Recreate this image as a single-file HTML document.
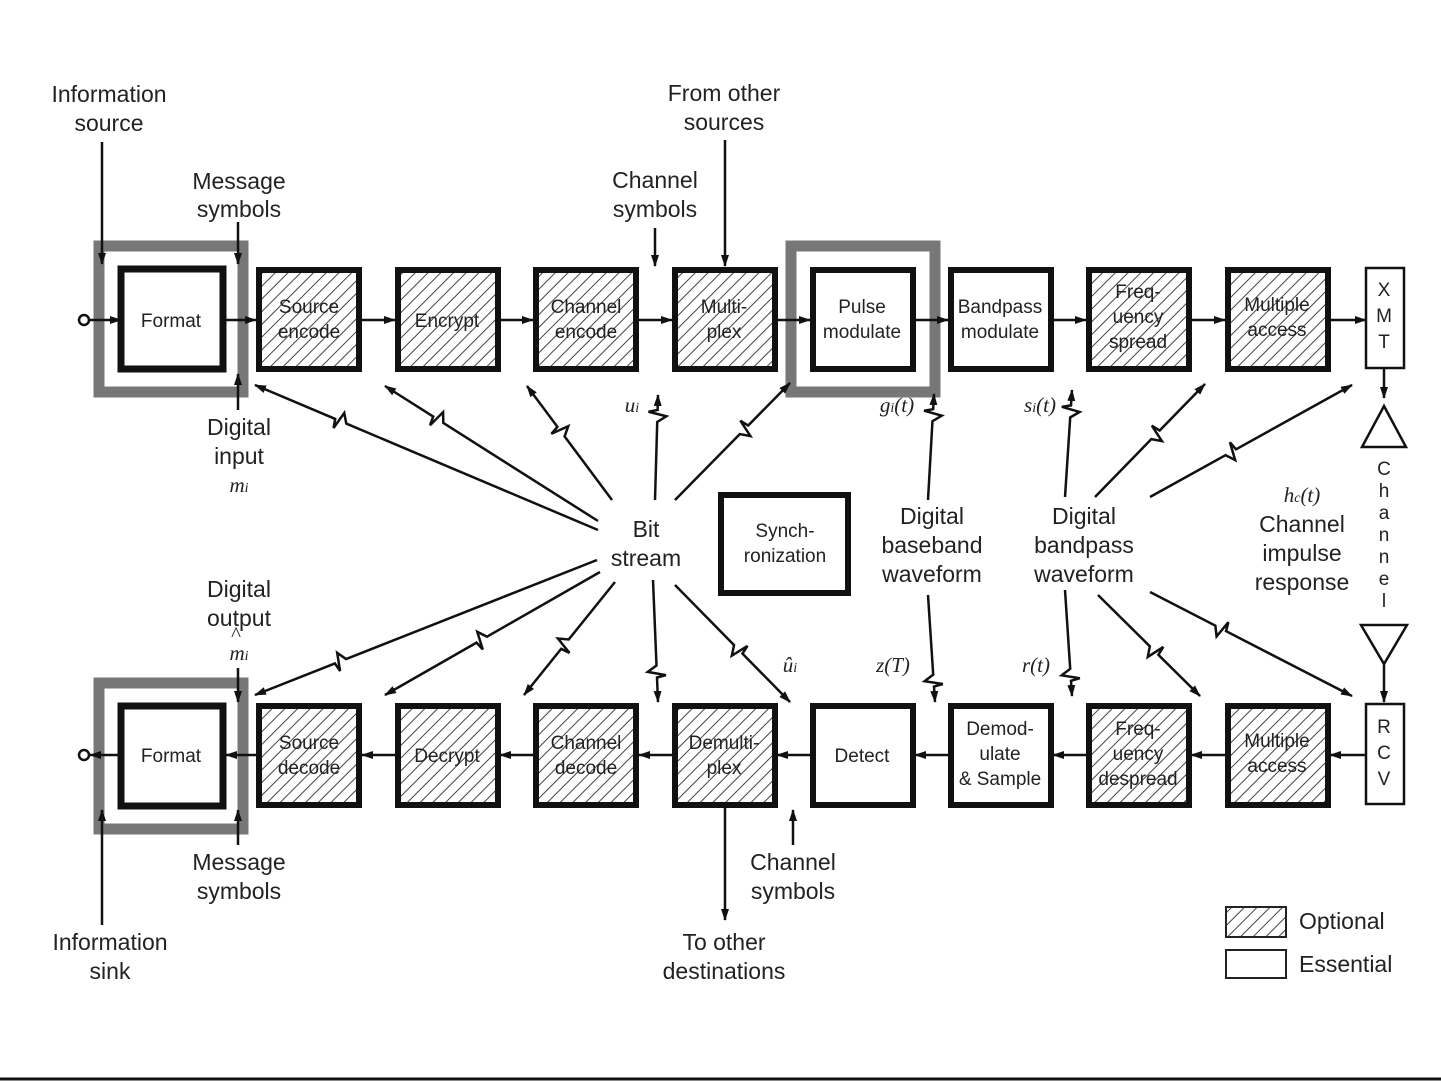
<!DOCTYPE html>
<html><head><meta charset="utf-8"><style>
html,body{margin:0;padding:0;background:#fff}
svg{display:block}
text{font-family:"Liberation Sans",sans-serif;fill:#222}
.b{font-size:19px;text-anchor:middle}
.l{font-size:23px;text-anchor:middle}
.m{font-family:"Liberation Serif",serif;font-style:italic;font-size:21px;text-anchor:middle}
</style></head><body>
<svg id="s" width="1441" height="1081" viewBox="0 0 1441 1081" xmlns="http://www.w3.org/2000/svg">
<defs>
<pattern id="h" width="9" height="9" patternUnits="userSpaceOnUse" patternTransform="rotate(45)">
<rect width="9" height="9" fill="#fff"/><line x1="0" y1="0" x2="0" y2="9" stroke="#444" stroke-width="2"/>
</pattern>
<marker id="a" markerWidth="12" markerHeight="10" refX="11" refY="5" orient="auto" markerUnits="userSpaceOnUse">
<path d="M0,1 L12,5 L0,9 Z" fill="#111"/></marker>
</defs>
<!-- gray frames -->
<rect x="99" y="246" width="144" height="146" fill="none" stroke="#777" stroke-width="11"/>
<rect x="791" y="246" width="144" height="146" fill="none" stroke="#777" stroke-width="11"/>
<rect x="99" y="683" width="144" height="146" fill="none" stroke="#777" stroke-width="11"/>
<g id="boxes"></g>
<g id="g" stroke="#111" fill="none"></g>
<!-- labels top row -->
<text class="b" x="171" y="327">Format</text>
<text class="b" x="309" y="313">Source</text><text class="b" x="309" y="338">encode</text>
<text class="b" x="447" y="327">Encrypt</text>
<text class="b" x="586" y="313">Channel</text><text class="b" x="586" y="338">encode</text>
<text class="b" x="724" y="313">Multi-</text><text class="b" x="724" y="338">plex</text>
<text class="b" x="862" y="313">Pulse</text><text class="b" x="862" y="338">modulate</text>
<text class="b" x="1000" y="313">Bandpass</text><text class="b" x="1000" y="338">modulate</text>
<text class="b" x="1138" y="298">Freq-</text><text class="b" x="1138" y="323">uency</text><text class="b" x="1138" y="348">spread</text>
<text class="b" x="1277" y="311">Multiple</text><text class="b" x="1277" y="336">access</text>
<text class="b" x="1384" y="296">X</text><text class="b" x="1384" y="322">M</text><text class="b" x="1384" y="348">T</text>
<!-- bottom row -->
<text class="b" x="171" y="762">Format</text>
<text class="b" x="309" y="749">Source</text><text class="b" x="309" y="774">decode</text>
<text class="b" x="447" y="762">Decrypt</text>
<text class="b" x="586" y="749">Channel</text><text class="b" x="586" y="774">decode</text>
<text class="b" x="724" y="749">Demulti-</text><text class="b" x="724" y="774">plex</text>
<text class="b" x="862" y="762">Detect</text>
<text class="b" x="1000" y="735">Demod-</text><text class="b" x="1000" y="760">ulate</text><text class="b" x="1000" y="785">&amp; Sample</text>
<text class="b" x="1138" y="735">Freq-</text><text class="b" x="1138" y="760">uency</text><text class="b" x="1138" y="785">despread</text>
<text class="b" x="1277" y="747">Multiple</text><text class="b" x="1277" y="772">access</text>
<text class="b" x="1384" y="733">R</text><text class="b" x="1384" y="759">C</text><text class="b" x="1384" y="785">V</text>
<text class="b" x="785" y="537">Synch-</text><text class="b" x="785" y="562">ronization</text>
<!-- outside labels -->
<text class="l" x="109" y="102">Information</text><text class="l" x="109" y="131">source</text>
<text class="l" x="239" y="189">Message</text><text class="l" x="239" y="217">symbols</text>
<text class="l" x="724" y="101">From other</text><text class="l" x="724" y="130">sources</text>
<text class="l" x="655" y="188">Channel</text><text class="l" x="655" y="217">symbols</text>
<text class="l" x="239" y="435">Digital</text><text class="l" x="239" y="464">input</text>
<text class="m" x="239" y="492">m<tspan font-size="14">i</tspan></text>
<text class="m" x="632" y="412">u<tspan font-size="14">i</tspan></text>
<text class="m" x="897" y="412">g<tspan font-size="14">i</tspan>(t)</text>
<text class="m" x="1040" y="412">s<tspan font-size="14">i</tspan>(t)</text>
<text class="l" x="646" y="537">Bit</text><text class="l" x="646" y="566">stream</text>
<text class="l" x="932" y="524">Digital</text><text class="l" x="932" y="553">baseband</text><text class="l" x="932" y="582">waveform</text>
<text class="l" x="1084" y="524">Digital</text><text class="l" x="1084" y="553">bandpass</text><text class="l" x="1084" y="582">waveform</text>
<text class="m" x="1302" y="502">h<tspan font-size="14">c</tspan>(t)</text>
<text class="l" x="1302" y="532">Channel</text><text class="l" x="1302" y="561">impulse</text><text class="l" x="1302" y="590">response</text>
<text class="b" x="1384" y="475">C</text><text class="b" x="1384" y="497">h</text><text class="b" x="1384" y="519">a</text><text class="b" x="1384" y="541">n</text><text class="b" x="1384" y="563">n</text><text class="b" x="1384" y="585">e</text><text class="b" x="1384" y="607">l</text>
<text class="l" x="239" y="597">Digital</text><text class="l" x="239" y="626">output</text>
<text class="m" x="236" y="641" style="font-style:normal">^</text>
<text class="m" x="239" y="660">m<tspan font-size="14">i</tspan></text>
<text class="m" x="790" y="672">û<tspan font-size="14">i</tspan></text>
<text class="m" x="893" y="672">z(T)</text>
<text class="m" x="1036" y="672">r(t)</text>
<text class="l" x="239" y="870">Message</text><text class="l" x="239" y="899">symbols</text>
<text class="l" x="793" y="870">Channel</text><text class="l" x="793" y="899">symbols</text>
<text class="l" x="110" y="950">Information</text><text class="l" x="110" y="979">sink</text>
<text class="l" x="724" y="950">To other</text><text class="l" x="724" y="979">destinations</text>
<rect x="1226" y="907" width="60" height="30" fill="url(#h)" stroke="#222" stroke-width="2"/>
<rect x="1226" y="950" width="60" height="28" fill="#fff" stroke="#222" stroke-width="2"/>
<text x="1299" y="929" style="font-size:23px">Optional</text>
<text x="1299" y="972" style="font-size:23px">Essential</text>
<line x1="0" y1="1079" x2="1441" y2="1079" stroke="#111" stroke-width="3"/>
</svg>
<script>
var NS="http://www.w3.org/2000/svg";
function el(p,n,a){var e=document.createElementNS(NS,n);for(var k in a)e.setAttribute(k,a[k]);p.appendChild(e);return e;}
var B=document.getElementById("boxes"),G=document.getElementById("g");
var xs=[256,395,533,672,810,948,1086,1225];
var topH=[1,1,1,1,0,0,1,1],botH=[1,1,1,1,0,0,1,1];
el(B,"rect",{x:121,y:269,width:102,height:100,fill:"#fff",stroke:"#111","stroke-width":7});
el(B,"rect",{x:121,y:706,width:102,height:100,fill:"#fff",stroke:"#111","stroke-width":7});
for(var i=0;i<8;i++){
 el(B,"rect",{x:xs[i]+3,y:270,width:100,height:99,fill:topH[i]?"url(#h)":"#fff",stroke:"#111","stroke-width":6});
 el(B,"rect",{x:xs[i]+3,y:706,width:100,height:99,fill:botH[i]?"url(#h)":"#fff",stroke:"#111","stroke-width":6});
}
el(B,"rect",{x:1366,y:268,width:38,height:100,fill:"#fff",stroke:"#111","stroke-width":2.5});
el(B,"rect",{x:1366,y:704,width:38,height:100,fill:"#fff",stroke:"#111","stroke-width":2.5});
el(B,"rect",{x:721,y:495,width:127,height:98,fill:"#fff",stroke:"#111","stroke-width":6});
el(B,"path",{d:"M1384,406 L1406,447 L1362,447 Z",fill:"#fff",stroke:"#111","stroke-width":2.5});
el(B,"path",{d:"M1361,625 L1407,625 L1384,664 Z",fill:"#fff",stroke:"#111","stroke-width":2.5});
function arr(x1,y1,x2,y2){el(G,"line",{x1:x1,y1:y1,x2:x2,y2:y2,"stroke-width":2.5,"marker-end":"url(#a)"});}
var tx=[226,362,500,639,777,915,1053,1191,1330],ex=[256,395,533,672,810,948,1086,1225,1366];
for(var i=0;i<9;i++){arr(tx[i],320,ex[i],320);arr(ex[i],755,tx[i],755);}
arr(90,320,121,320);arr(121,755,90,755);
el(G,"circle",{cx:84,cy:320,r:5,fill:"#fff","stroke-width":2.5});
el(G,"circle",{cx:84,cy:755,r:5,fill:"#fff","stroke-width":2.5});
arr(102,142,102,264);arr(238,222,238,264);arr(238,410,238,374);
arr(655,228,655,266);arr(725,140,725,266);
arr(1384,369,1384,398);arr(1384,665,1384,702);
arr(238,668,238,702);arr(238,845,238,810);arr(102,925,102,810);
arr(793,845,793,810);arr(725,808,725,920);
function zz(x1,y1,x2,y2,f){f=f||0.75;var dx=x2-x1,dy=y2-y1,L=Math.hypot(dx,dy),ux=dx/L,uy=dy/L,px=-uy,py=ux;
 var mx=x1+dx*f,my=y1+dy*f;
 var p1=[mx-ux*6,my-uy*6],a=[mx+px*9,my+py*9],b=[mx-px*9+ux*4,my-py*9+uy*4],p2=[mx+ux*6,my+uy*6];
 el(G,"path",{d:"M"+x1+","+y1+" L"+p1+" L"+a+" L"+b+" L"+p2+" L"+x2+","+y2,"stroke-width":2.5,"marker-end":"url(#a)"});}
zz(598,530,255,385);zz(598,521,385,386);zz(612,500,527,386,0.6);zz(655,500,658,395,0.8);zz(675,500,790,383,0.6);
zz(928,500,934,394,0.8);zz(1065,497,1072,390,0.8);zz(1095,497,1205,384,0.55);zz(1150,497,1352,385,0.4);
zz(597,560,255,695);zz(600,572,385,695,0.55);zz(615,582,524,695,0.55);zz(653,580,658,702,0.75);zz(675,585,790,702,0.55);
zz(928,595,935,702,0.8);zz(1065,590,1072,696,0.8);zz(1098,595,1200,696,0.55);zz(1150,592,1352,696,0.35);
</script>
</body></html>
